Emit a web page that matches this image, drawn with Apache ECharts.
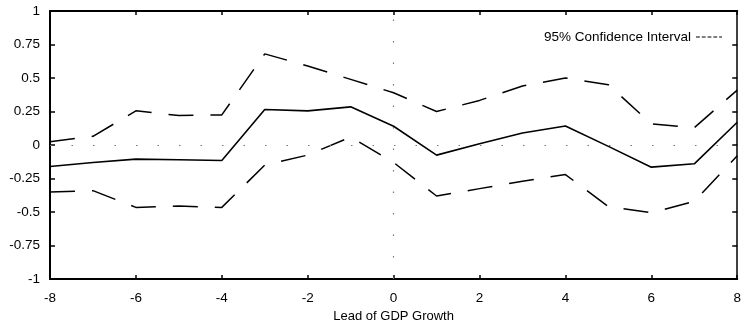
<!DOCTYPE html>
<html>
<head>
<meta charset="utf-8">
<script src="https://cdn.jsdelivr.net/npm/echarts@6/dist/echarts.min.js"></script>
<style>
html,body{margin:0;padding:0;background:#fff;}
#chart{width:744px;height:328px;}
</style>
</head>
<body>
<div id="chart"></div>
<script>
var lead = [-8, -7, -6, -5, -4, -3, -2, -1, 0, 1, 2, 3, 4, 5, 6, 7, 8];
var estimate = [-0.16, -0.13, -0.105, -0.11, -0.115, 0.265, 0.255, 0.285, 0.14, -0.075, 0.01, 0.09, 0.142, -0.01, -0.165, -0.14, 0.17];
var upper = [0.025, 0.065, 0.255, 0.22, 0.225, 0.68, 0.59, 0.49, 0.39, 0.25, 0.333, 0.44, 0.5, 0.45, 0.158, 0.13, 0.41];
var lower = [-0.35, -0.34, -0.465, -0.455, -0.465, -0.15, -0.075, 0.06, -0.13, -0.38, -0.325, -0.27, -0.22, -0.46, -0.505, -0.42, -0.08];
var ciName = '95% Confidence Interval';
var xLabel = 'Lead of GDP Growth';

function pairs(xs, ys){ return xs.map(function(x,i){ return [x, ys[i]]; }); }

var FONT = 'Liberation Sans, Arial, sans-serif';
var chart = echarts.init(document.getElementById('chart'), null, {renderer:'canvas'});
var axisLineStyle = {color:'#000', width:2};
var dashIcon = 'path://M0,0h4v1.2h-4zM6,0h4v1.2h-4zM12,0h4v1.2h-4zM18,0h4v1.2h-4zM24,0h3v1.2h-3z';
chart.setOption({
  animation:false,
  backgroundColor:'#fff',
  textStyle:{fontFamily:FONT},
  grid:{left:50, right:3, top:11, bottom:46},
  legend:{
    data:[{name:ciName, icon:dashIcon}], right:17, top:25, align:'right', orient:'horizontal',
    itemWidth:26, itemHeight:1.3, itemGap:8,
    textStyle:{fontSize:13.5, color:'#000', fontFamily:FONT},
    itemStyle:{color:'#000'}
  },
  xAxis:[{
    type:'value', min:-8, max:8, interval:2, position:'bottom',
    name:xLabel, nameLocation:'middle', nameGap:27,
    nameTextStyle:{fontSize:13, color:'#000', fontFamily:FONT},
    axisLine:{show:true, onZero:false, lineStyle:axisLineStyle},
    axisTick:{show:true, inside:true, length:4, lineStyle:{color:'#000', width:1.5}},
    axisLabel:{fontSize:13.5, color:'#000', margin:12, fontFamily:FONT},
    splitLine:{show:false}
  },{
    type:'value', min:-8, max:8, interval:2, position:'top',
    axisLine:{show:true, onZero:false, lineStyle:axisLineStyle},
    axisTick:{show:true, inside:true, length:4, lineStyle:{color:'#000', width:1.5}},
    axisLabel:{show:false}, splitLine:{show:false}
  }],
  yAxis:[{
    type:'value', min:-1, max:1, interval:0.25, position:'left',
    axisLine:{show:true, onZero:false, lineStyle:axisLineStyle},
    axisTick:{show:true, inside:true, length:5, lineStyle:{color:'#000', width:1.5}},
    axisLabel:{fontSize:13.5, color:'#000', margin:10, fontFamily:FONT},
    splitLine:{show:false}
  },{
    type:'value', min:-1, max:1, interval:0.25, position:'right',
    axisLine:{show:true, onZero:false, lineStyle:{color:'#000', width:1.5}},
    axisTick:{show:true, inside:true, length:5, lineStyle:{color:'#000', width:1.5}},
    axisLabel:{show:false}, splitLine:{show:false}
  }],
  series:[{
    name:'Estimate', type:'line', data:pairs(lead, estimate),
    symbol:'none', lineStyle:{color:'#000', width:1.6}, z:3,
    markLine:{
      silent:true, symbol:'none', label:{show:false},
      lineStyle:{color:'#777', type:[1.5,20], width:1.2},
      data:[{yAxis:0},{xAxis:0}]
    }
  },{
    name:ciName, type:'line', data:pairs(lead, upper),
    symbol:'none', lineStyle:{color:'#000', width:1.5, type:[25,17]}
  },{
    name:ciName, type:'line', data:pairs(lead, lower),
    symbol:'none', lineStyle:{color:'#000', width:1.5, type:[25,17]}
  }]
});
</script>
</body>
</html>
